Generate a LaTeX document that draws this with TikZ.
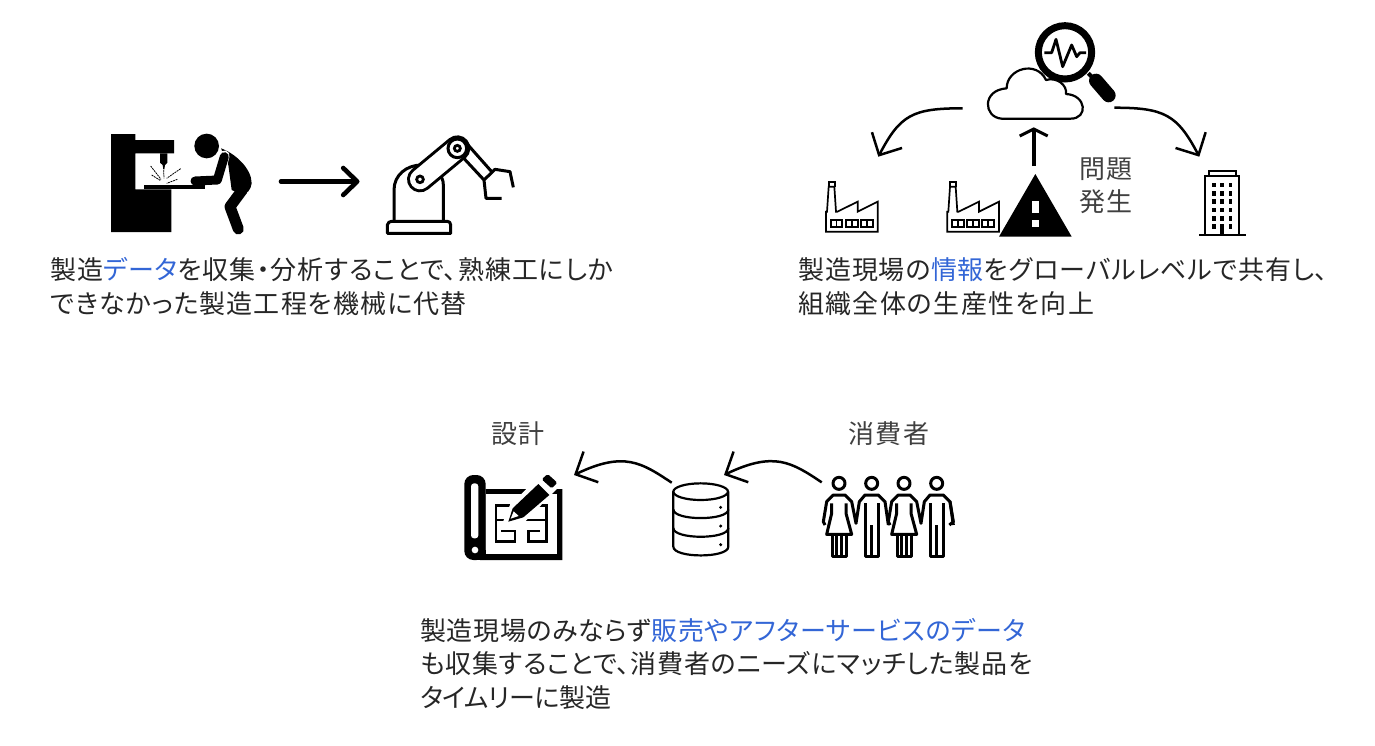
\documentclass[tikz,border=0pt]{standalone}
\usepackage{fontspec}
\setmainfont[RawFeature=+palt]{Noto Sans CJK JP}
\usetikzlibrary{arrows.meta}
\definecolor{txt}{HTML}{262626}
\definecolor{lbl}{HTML}{404040}
\definecolor{hl}{HTML}{3366D6}
\newcommand{\hlt}[1]{\textcolor{hl}{#1}}
\newcommand{\ls}[1]{\addfontfeature{LetterSpace=#1}}
\tikzset{
  body/.style={anchor=west,inner sep=0pt,text=txt,font=\fontsize{26}{30}\selectfont},
  lab/.style={inner sep=0pt,text=lbl,font=\fontsize{26}{30}\selectfont\addfontfeature{LetterSpace=6}},
  conn/.style={line width=2.5pt,-{Straight Barb[length=17pt,width=34pt,line width=2.5pt]}},
  bigconn/.style={line width=4.6pt,line cap=round,-{Straight Barb[length=14pt,width=27pt,line width=4.6pt,round]}},
  upconn/.style={line width=4pt,-{Straight Barb[length=7pt,width=28pt,line width=3pt]}},
  ic/.style={line width=3pt,line join=round},
  zm/.style={scale=1/3},
}
\begin{document}
\begin{tikzpicture}[x=1pt,y=-1pt]
\useasboundingbox (0,0) rectangle (1375,745);
% --- texts
\node[body] (t1a) at (50,270) {\ls{3.8}製造\hlt{データ}を収集・分析することで、熟練工にしか};
\node[body] (t1b) at (50,304) {\ls{4.2}できなかった製造工程を機械に代替};
\node[body] (t2a) at (798,270) {\ls{3.6}製造現場の\hlt{情報}をグローバルレベルで共有し、};
\node[body] (t2b) at (798,304) {\ls{5}組織全体の生産性を向上};
\node[body] (t3a) at (420,631) {\ls{2.5}製造現場のみならず\hlt{販売やアフターサービスのデータ}};
\node[body] (t3b) at (420,664) {\ls{2.8}も収集することで、消費者のニーズにマッチした製品を};
\node[body] (t3c) at (420,698) {\ls{-1.2}タイムリーに製造};
\node[lab] (l1) at (1106,169) {問題};
\node[lab] (l2) at (1106,202) {発生};
\node[lab] (l3) at (518,434) {設計};
\node[lab] (l4) at (889,434) {消費者};
% --- machine and worker
\begin{scope}[shift={(90,110)},zm]
  \fill (63,72)--(136,72)--(136,90)--(252,90)--(252,130)--(136,130)--(136,238)--(244,238)--(244,366)--(63,366)--cycle;
  \fill (210,130)--(232,130)--(232,158)--(225,165)--(223,178)--(220,178)--(218,165)--(210,158)--cycle;
  \fill (162,225)--(345,225)--(345,236)--(162,236)--cycle;
  \draw[line width=.8pt,dash pattern=on 2pt off .7pt] (182,168)--(213,208) (185,195)--(212,212) (272,176)--(230,205) (262,208)--(230,220) (221,180)--(222,205);
\end{scope}
\begin{scope}[shift={(185,125)},zm]
  \fill (65,63) circle (37);
  \fill (108,70) .. controls (150,85) and (200,130) .. (200,175) .. controls (198,195) and (185,205) .. (175,210) -- (140,195) -- (130,120) -- cycle;
  \draw[line width=11pt,line cap=round,line join=round] (172,195)--(135,245)--(160,312);
  \draw[white,line width=10.5pt,line cap=round] (118,92)--(108,130);
  \draw[line width=9pt,line cap=round,line join=round] (118,95)--(97,165)--(30,168);
\end{scope}
% --- central arrow
\coordinate (m1) at (281,181.5);
\coordinate (m2) at (359.5,181.5);
\draw[bigconn] (m1)--(m2);
% --- robot
\begin{scope}[shift={(380,130)},zm]
  \begin{scope}[line width=3pt,line join=round]
  \draw (42,272)--(42,180) .. controls (42,135) and (80,105) .. (125,105);
  \draw (190,272)--(190,165) .. controls (190,150) and (185,140) .. (175,130);
  \draw (22,310)--(212,310)--(212,285) .. controls (212,278) and (208,274) .. (202,274)--(35,274) .. controls (28,274) and (24,278) .. (22,285)--cycle;
  \draw (245,78)--(312,150)--(345,118)--(390,125)--(400,172) (312,150)--(318,205)--(365,205);
  \draw (335,125)--(258,38);
  \end{scope}
  \draw[line width=26pt,line cap=round] (120,148)--(232,55);
  \draw[white,line width=20pt,line cap=round] (120,148)--(232,55);
  \draw[line width=3pt,fill=white] (232,55) circle (28);
  \draw[line width=2.8pt,fill=white] (232,55) circle (9);
  \draw[line width=2.8pt,fill=white] (120,148) circle (10);
\end{scope}
% --- cloud group
\begin{scope}[shift={(810,10)},zm]
  \draw[line width=2.2pt,fill=white,line join=round] (575,326) .. controls (520,322) and (515,240) .. (590,235)
    .. controls (590,175) and (680,150) .. (708,210)
    .. controls (740,200) and (772,225) .. (768,252)
    .. controls (830,255) and (835,326) .. (782,326) -- cycle;
  \draw[line width=4pt] (835,190)--(855,210);
  \draw[line width=14pt,line cap=round] (858,212)--(896,256);
  \draw[line width=7pt,fill=white] (765,127) circle (80);
  \draw[line width=2.8pt,line join=round] (703,128)--(725,128)--(738,88)--(758,170)--(785,105)--(800,140)--(810,128)--(828,128);
  \foreach \dx in {0,364}{
   \begin{scope}[shift={(\dx,0)},line width=1.7pt,line join=miter]
    \draw[fill=white] (48,665)--(203,665)--(203,575)--(143,605)--(143,575)--(82,605)--(78,605)--(73,530)--(56,530)--(51,605)--(48,605)--cycle;
    \draw (56,530)--(56,517)--(75,517)--(75,530);
    \foreach \w in {62,108,153}{
      \draw (\w,630) rectangle ++(35,20);
      \draw (\w+17.5,630)--(\w+17.5,650);
    }
   \end{scope}
  }
  \fill (676,492)--(785,680)--(567,680)--cycle;
  \fill[white] (665,572) rectangle (687,610);
  \fill[white] (665,630) rectangle (687,650);
  \draw[line width=1.7pt] (1185,672)--(1185,497)--(1288,497)--(1288,672);
  \draw[line width=1.7pt] (1198,497)--(1198,482)--(1278,482)--(1278,497);
  \draw[line width=1.7pt] (1168,674)--(1308,674);
  \foreach \cx in {1212,1236,1262}\foreach \cy in {525,550,575,600,625,650}{
    \fill (\cx-5,\cy-7) rectangle (\cx+5,\cy+7);
  }
  \fill (1231,645) rectangle (1241,672);
\end{scope}
\coordinate (c1) at (962.7,108.3);
\coordinate (f1) at (878.3,156.7);
\coordinate (c2) at (1114.3,107.7);
\coordinate (b1) at (1199.3,156.7);
\coordinate (w1) at (1033.7,166);
\coordinate (c3) at (1033.7,127.3);
\draw[conn] (c1) .. controls +(-50,0) and +(22,-42) .. (f1);
\draw[conn] (c2) .. controls +(50,0) and +(-22,-42) .. (b1);
\draw[upconn] (w1)--(c3);
% --- blueprint
\begin{scope}[shift={(460,470)},zm]
  \fill[rounded corners=9pt] (13,15) rectangle (77,270);
  \fill (45,260) rectangle (77,270);
  \fill (77,57)--(307,57)--(307,270)--(60,270)--(60,240)--(77,240)--cycle;
  \fill[white] (77,73) rectangle (290,253);
  \fill[white,rounded corners=3pt] (33,40) rectangle (55,205);
  \fill[white] (45,240) circle (10);
  \begin{scope}[line width=2.8pt,line join=miter]
  \draw (150,107)--(108,107)--(108,150)--(138,150);
  \draw (108,150)--(108,215)--(165,215)--(165,183)--(122,183);
  \draw (215,107)--(260,107)--(260,215)--(205,215)--(205,183)--(240,183);
  \draw (180,150)--(260,150);
  \end{scope}
  \fill[white] (125,165)--(150,105)--(258,0)--(305,42)--(195,155)--cycle;
  \fill (145,155)--(158,115)--(235,42)--(268,75)--(190,142)--cycle;
  \fill[white] (152,146)--(161,124)--(176,138)--cycle;
  \fill[rounded corners=1.5pt] (245,28)--(263,12)--(292,38)--(275,55)--cycle;
\end{scope}
% --- database
\begin{scope}[shift={(450,410)},zm]
  \begin{scope}[line width=2.2pt]
  \draw (752,245) ellipse (82 and 25);
  \draw (670,245)--(670,410) .. controls (670,445) and (835,445) .. (835,410)--(835,245);
  \draw (670,298) .. controls (670,333) and (835,333) .. (835,298);
  \draw (670,354) .. controls (670,389) and (835,389) .. (835,354);
  \end{scope}
  \fill (812,292) circle (5) (812,348) circle (5) (812,404) circle (5);
\end{scope}
\coordinate (d1) at (671.7,482.7);
\coordinate (p1) at (574,475);
\coordinate (h1) at (821.7,482.3);
\coordinate (d2) at (724,475);
\draw[conn] (d1) .. controls +(-30,-20) and +(50,-24) .. (p1);
\draw[conn] (h1) .. controls +(-30,-20) and +(50,-24) .. (d2);
% --- people
\begin{scope}[shift={(820,470)},zm]
  \foreach \dx in {0,195}{
  \begin{scope}[shift={(\dx,0)},ic]
    \draw (57,40) circle (18);
    \draw (155,40) circle (18);
    \draw (15,165)--(10,155)--(20,95)--(40,75)--(75,75)--(95,95)--(108,160)--(118,95)--(135,75)--(175,75)--(195,95)--(205,165);
    \draw (35,100)--(35,130)--(20,193)--(95,193)--(78,130)--(78,100);
    \draw (38,195)--(38,258)--(78,258)--(78,195) (50,195)--(50,258) (65,195)--(65,258);
    \draw (137,100)--(137,258)--(175,258)--(175,100) (155,165)--(155,258);
  \end{scope}}
  \draw[ic] (390,95)--(400,155)--(388,165);
\end{scope}
\end{tikzpicture}
\end{document}
